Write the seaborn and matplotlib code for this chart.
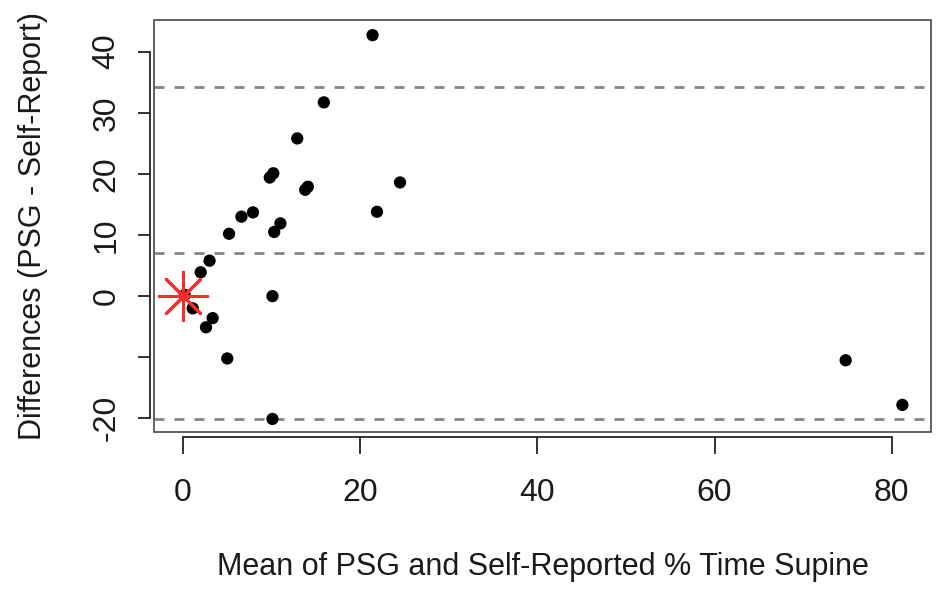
import matplotlib
matplotlib.use("Agg")
import matplotlib.pyplot as plt
from matplotlib.patches import Rectangle
import pandas as pd
import seaborn as sns

# Bland-Altman data: mean of PSG and self-reported % time supine vs. their difference
mean_supine = [21.4, 15.9, 12.9, 10.2, 9.8, 14.1, 13.8, 24.5, 21.9, 7.9, 6.6, 11.0, 10.3,
               5.2, 3.0, 2.0, 0.2, 1.1, 3.35, 2.6, 5.0, 10.1, 10.1, 74.8, 81.2]
diff_supine = [42.7, 31.7, 25.8, 20.1, 19.4, 17.9, 17.4, 18.6, 13.8, 13.7, 13.0, 11.9, 10.5,
               10.2, 5.8, 3.9, 0.2, -2.0, -3.6, -5.1, -10.2, 0.0, -20.1, -10.5, -17.8]

# mean difference and limits of agreement
bias = 7.0
upper_loa = 34.2
lower_loa = -20.1

# reference marker at the origin
ref_x = [0.0]
ref_y = [0.0]

x_ticks = [0, 20, 40, 60, 80]
y_ticks = [-20, -10, 0, 10, 20, 30, 40]
y_tick_labels = ["-20", "", "0", "10", "20", "30", "40"]

df = pd.DataFrame({"mean": mean_supine, "diff": diff_supine})

sns.set_style("white")
plt.rcParams["font.family"] = ["Liberation Sans", "DejaVu Sans"]

fig = plt.figure(figsize=(9.4, 5.92), dpi=100)
ax = fig.add_axes([0.164, 0.2696, 0.8266, 0.6958])

for level in (upper_loa, bias, lower_loa):
    ax.axhline(level, color="#858585", lw=2.0, ls=(0, (3.6, 3.6)), zorder=1)

sns.scatterplot(data=df, x="mean", y="diff", color="black", s=78, edgecolor="none",
                ax=ax, zorder=3, legend=False)
sns.scatterplot(x=ref_x, y=ref_y, marker=(8, 2, 0), s=35 ** 2, color="#ff2a2a",
                linewidth=2.0, ax=ax, zorder=4, legend=False)

ax.set_xlim(-3.25, 84.45)
ax.set_ylim(-22.3, 45.1)

# plot box
ax.add_patch(Rectangle((0, 0), 1, 1, transform=ax.transAxes, fill=False,
                       ec="#555555", lw=1.3, clip_on=False, zorder=5))

# axis lines spanning the tick range
for side in ("top", "right"):
    ax.spines[side].set_visible(False)
for side in ("left", "bottom"):
    ax.spines[side].set_visible(True)
    ax.spines[side].set_color("#222222")
    ax.spines[side].set_linewidth(1.3)
    ax.spines[side].set_position(("outward", 3))
ax.spines["bottom"].set_bounds(x_ticks[0], x_ticks[-1])
ax.spines["left"].set_bounds(y_ticks[0], y_ticks[-1])

ax.set_xticks(x_ticks)
ax.set_xticklabels([str(t) for t in x_ticks])
ax.set_yticks(y_ticks)
ax.set_yticklabels(y_tick_labels, rotation=90, va="center")

ax.tick_params(axis="x", bottom=True, direction="out", length=12, width=1.3,
               color="#222222", pad=18, labelsize=23, labelcolor="#1a1a1a")
ax.tick_params(axis="y", left=True, direction="out", length=8.5, width=1.3,
               color="#222222", pad=12, labelsize=23, labelcolor="#1a1a1a")

ax.set_xlabel("Mean of PSG and Self-Reported % Time Supine", fontsize=22, color="#1a1a1a")
ax.set_ylabel("Differences (PSG - Self-Report)", fontsize=22, color="#1a1a1a")
ax.xaxis.set_label_coords(0.5, -0.29)
ax.yaxis.set_label_coords(-0.136, 0.5)

fig.savefig("out.png", dpi=100)
